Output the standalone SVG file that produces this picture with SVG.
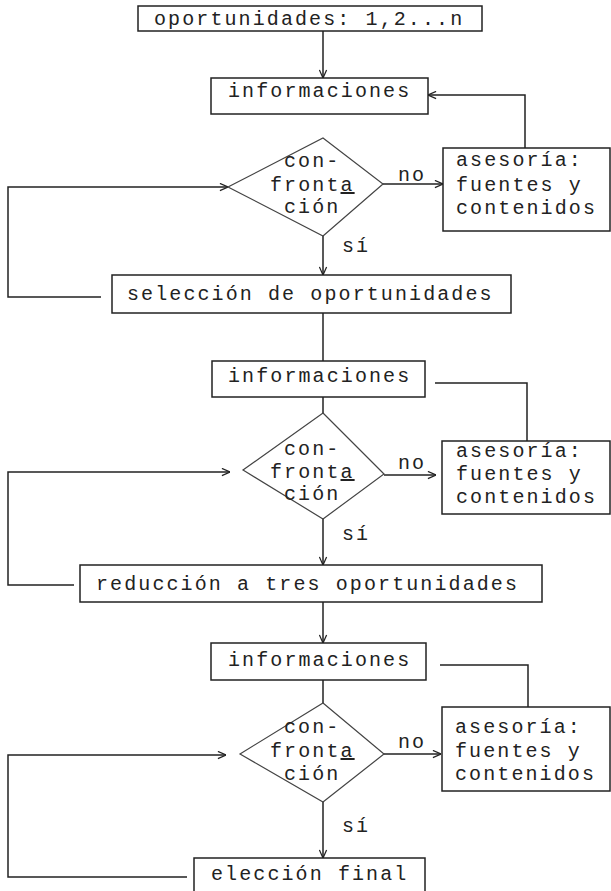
<svg xmlns="http://www.w3.org/2000/svg" width="611" height="891" viewBox="0 0 611 891">
<defs>
<marker id="arr" viewBox="0 0 10 10" refX="10" refY="5" markerWidth="9" markerHeight="9" orient="auto" markerUnits="userSpaceOnUse">
<path d="M1,1 L10,5 L1,9" fill="none" stroke="#222" stroke-width="1.4"/>
</marker>
</defs>
<style>
.box{fill:none;stroke:#222;stroke-width:1.5}
.dia{fill:none;stroke:#444;stroke-width:1.2}
.ln{fill:none;stroke:#222;stroke-width:1.5}
.ar{fill:none;stroke:#222;stroke-width:1.5;marker-end:url(#arr)}
text{font-family:"Liberation Mono","DejaVu Sans Mono",monospace;font-size:20px;letter-spacing:2.1px;fill:#222}
</style>
<rect width="611" height="891" fill="#fff"/>

<g id="connectors">
<line class="ar" x1="323" y1="31" x2="323" y2="78"/>
<polyline class="ar" points="525,148 525,95 428,95"/>
<polyline class="ar" points="101,297 8,297 8,187 228,187"/>
<line class="ar" x1="383" y1="184" x2="443" y2="184"/>
<line class="ar" x1="323" y1="236" x2="323" y2="275"/>
<line class="ln" x1="323" y1="313" x2="323" y2="361"/>
<polyline class="ln" points="527,441 527,383 435,383"/>
<line class="ln" x1="323" y1="397" x2="323" y2="413"/>
<polyline class="ar" points="74,585 8,585 8,472 230,472"/>
<line class="ar" x1="384" y1="475" x2="436" y2="475"/>
<line class="ar" x1="323" y1="519" x2="323" y2="565"/>
<line class="ar" x1="323" y1="602" x2="323" y2="643"/>
<polyline class="ln" points="528,707 528,665 440,665"/>
<line class="ln" x1="323" y1="680" x2="323" y2="703"/>
<polyline class="ar" points="187,877 8,877 8,755 226,755"/>
<line class="ar" x1="384" y1="754" x2="441" y2="754"/>
<line class="ar" x1="323" y1="802" x2="323" y2="858"/>
</g>

<g id="n-oportunidades">
<rect class="box" x="138" y="6" width="344" height="25"/>
<text x="154" y="25">oportunidades: 1,2...n</text>
</g>

<g id="n-info1">
<rect class="box" x="211" y="78" width="217" height="36"/>
<text x="228" y="97">informaciones</text>
</g>

<g id="n-conf1">
<path class="dia" d="M323,138 L383,184 L323,236 L228,187 Z"/>
<text x="284" y="167">con-</text>
<text x="270" y="191">front<tspan text-decoration="underline">a</tspan></text>
<text x="284" y="213">ción</text>
<text x="398" y="181">no</text>
<text x="342" y="252">sí</text>
</g>

<g id="n-asesoria1">
<rect class="box" x="443" y="148" width="167" height="83"/>
<text x="456" y="166">asesoría:</text>
<text x="456" y="191">fuentes y</text>
<text x="456" y="214">contenidos</text>
</g>

<g id="n-seleccion">
<rect class="box" x="112" y="275" width="399" height="38"/>
<text x="127" y="300">selección de oportunidades</text>
</g>

<g id="n-info2">
<rect class="box" x="212" y="361" width="213" height="36"/>
<text x="228" y="382">informaciones</text>
</g>

<g id="n-conf2">
<path class="dia" d="M323,413 L384,474 L323,519 L243,470 Z"/>
<text x="284" y="455">con-</text>
<text x="270" y="478">front<tspan text-decoration="underline">a</tspan></text>
<text x="284" y="500">ción</text>
<text x="398" y="469">no</text>
<text x="342" y="540">sí</text>
</g>

<g id="n-asesoria2">
<rect class="box" x="442" y="441" width="168" height="73"/>
<text x="456" y="457">asesoría:</text>
<text x="456" y="480">fuentes y</text>
<text x="456" y="503">contenidos</text>
</g>

<g id="n-reduccion">
<rect class="box" x="80" y="565" width="462" height="37"/>
<text x="96" y="590">reducción a tres oportunidades</text>
</g>

<g id="n-info3">
<rect class="box" x="211" y="643" width="215" height="37"/>
<text x="228" y="666">informaciones</text>
</g>

<g id="n-conf3">
<path class="dia" d="M323,703 L384,754 L323,802 L240,754 Z"/>
<text x="284" y="733">con-</text>
<text x="270" y="757">front<tspan text-decoration="underline">a</tspan></text>
<text x="284" y="780">ción</text>
<text x="398" y="748">no</text>
<text x="342" y="832">sí</text>
</g>

<g id="n-asesoria3">
<rect class="box" x="442" y="707" width="168" height="84"/>
<text x="455" y="733">asesoría:</text>
<text x="455" y="757">fuentes y</text>
<text x="455" y="780">contenidos</text>
</g>

<g id="n-eleccion">
<rect class="box" x="194" y="858" width="231" height="40"/>
<text x="211" y="880">elección final</text>
</g>
</svg>
